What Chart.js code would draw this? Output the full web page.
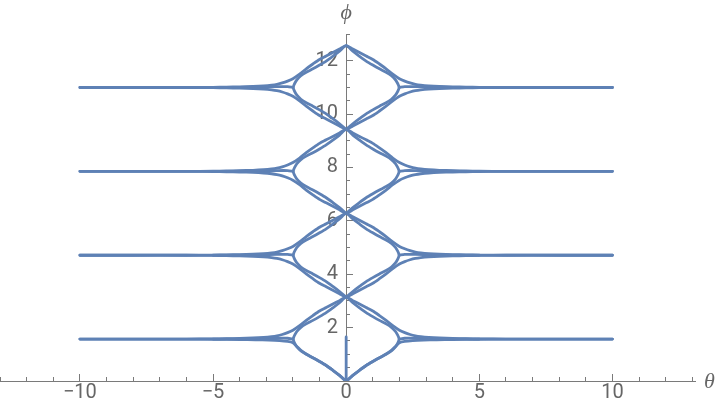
<!DOCTYPE html>
<html><head><meta charset="utf-8">
<script src="https://cdn.jsdelivr.net/npm/chart.js@4/dist/chart.umd.min.js"></script>
<style>html,body{margin:0;padding:0;background:#fff}</style>
</head><body>
<canvas id="c" width="720" height="409"></canvas>
<script>
// Row centres (asymptote levels) of the four repeating cells
const rowCenters = [1.571, 4.712, 7.854, 10.996];
// Right-half shapes: [theta, offset from row centre]
const innerUpperArm = [[0,1.571],[0.25,1.36],[0.5,1.17],[0.75,0.99],[1.0,0.84],[1.25,0.70],[1.5,0.57],[1.7,0.44],[1.85,0.29],[1.93,0.16],[1.97,0.07],[1.99,0.0]];
const innerLowerArm = [[0,-1.571],[0.25,-1.36],[0.5,-1.17],[0.75,-0.99],[1.0,-0.84],[1.25,-0.70],[1.5,-0.57],[1.7,-0.44],[1.85,-0.29],[1.93,-0.16],[1.97,-0.07],[1.99,0.0]];
const outerArm = [[0,1.571],[0.25,1.44],[0.5,1.31],[0.75,1.18],[1.0,1.05],[1.25,0.88],[1.5,0.70],[1.75,0.50],[2.0,0.33],[2.2,0.24],[2.4,0.17],[2.6,0.12],[2.8,0.09],[3.1,0.062],[3.5,0.04],[4.0,0.025],[4.5,0.014],[5.0,0.007],[6.0,0.0],[8.0,0.0],[10,0.0]];
const firstLowerArm = [[0,-1.571],[0.25,-1.36],[0.5,-1.17],[0.75,-0.99],[1.0,-0.84],[1.25,-0.70],[1.5,-0.56],[1.7,-0.42],[1.85,-0.28],[2.0,-0.14],[2.2,-0.09],[2.5,-0.06],[2.9,-0.04],[3.4,-0.027],[4.0,-0.016],[5.0,-0.006],[6.0,0.0],[10,0.0]];
const tipTail = [[1.99,0.0],[2.2,0.03],[2.6,0.03],[3.2,0.015],[4.0,0.005],[5.0,0.0]];
const axisStub = [[0,0],[0,1.65]];

const xMajorTicks = [-10,-5,0,5,10];
const xTickLabels = ['−10','−5','0','5','10'];
const xMinorTicks = [-13,-12,-11,-10,-9,-8,-7,-6,-5,-4,-3,-2,-1,0,1,2,3,4,5,6,7,8,9,10,11,12,13];
const yMajorTicks = [2,4,6,8,10,12];
const yTickLabels = ['2','4','6','8','10','12'];
const yMinorTicks = [0,0.5,1,1.5,2,2.5,3,3.5,4,4.5,5,5.5,6,6.5,7,7.5,8,8.5,9,9.5,10,10.5,11,11.5,12,12.5,13];

const LINE = '#5e81b5';
const AX = '#7a7a7a';
const LBL = '#666666';

function pts(arr, c, sx) { return arr.map(p => ({x: sx * p[0], y: c + p[1]})); }
function neg(arr) { return arr.map(p => [p[0], -p[1]]); }
function lens(c) {
  const r1 = pts(innerLowerArm, c, 1);
  const r2 = pts(innerUpperArm, c, 1).reverse().slice(1);
  const l1 = pts(innerUpperArm, c, -1).slice(1);
  const l2 = pts(innerLowerArm, c, -1).reverse().slice(1);
  return r1.concat(r2, l1, l2);
}
function through(arm, c) {
  const left = pts(arm, c, -1).reverse();
  const right = pts(arm, c, 1).slice(1);
  return left.concat(right);
}
const datasets = [];
rowCenters.forEach((c, i) => {
  datasets.push({data: lens(c)});
  datasets.push({data: through(outerArm, c)});
  datasets.push({data: through(i === 0 ? firstLowerArm : neg(outerArm), c)});
  datasets.push({data: pts(tipTail, c, 1)});
  datasets.push({data: pts(tipTail, c, -1)});
});
datasets.push({data: axisStub.map(p => ({x: p[0], y: p[1]})), tension: 0});
datasets.forEach(d => Object.assign(d, {showLine: true, borderColor: LINE, borderWidth: 2.8, pointRadius: 0, fill: false, borderCapStyle: 'round', borderJoinStyle: 'round'}));

const tickFont = {family: 'Roboto', size: 20};
const titles = {
  id: 'titles',
  afterDraw(chart) {
    const ctx = chart.ctx, a = chart.chartArea;
    const xs = chart.scales.x, ys = chart.scales.y;
    ctx.save();
    ctx.fillStyle = LBL;
    ctx.font = 'italic 22px "Liberation Serif"';
    ctx.textBaseline = 'middle';
    ctx.textAlign = 'left';
    ctx.fillText('θ', a.right + 9, ys.getPixelForValue(0) + 1);
    ctx.textAlign = 'center';
    ctx.fillText('ϕ', xs.getPixelForValue(0), a.top - 21);
    ctx.restore();
  }
};

new Chart(document.getElementById('c'), {
  type: 'scatter',
  data: {datasets},
  options: {
    responsive: false, animation: false, devicePixelRatio: 1,
    layout: {padding: {left: 0, right: 25, top: 34, bottom: 0}},
    plugins: {legend: {display: false}, tooltip: {enabled: false}},
    elements: {line: {tension: 0.25}},
    scales: {
      xMinor: {
        type: 'linear', axis: 'x', position: 'bottom', weight: -1, min: -13, max: 13.1,
        afterBuildTicks: s => { s.ticks = xMinorTicks.map(v => ({value: v})); },
        afterFit: s => { s.height = 0; },
        grid: {drawOnChartArea: false, drawTicks: true, tickLength: -4, tickColor: AX, tickWidth: 1},
        border: {display: false},
        ticks: {display: false}
      },
      x: {
        type: 'linear', position: 'bottom', weight: 0, min: -13, max: 13.1,
        afterBuildTicks: s => { s.ticks = xMajorTicks.map(v => ({value: v})); },
        afterFit: s => { s.height = 28; },
        grid: {drawOnChartArea: false, drawTicks: true, tickLength: -7, tickColor: AX, tickWidth: 1},
        border: {display: true, color: AX, width: 1},
        ticks: {autoSkip: false, maxRotation: 0, padding: 7, color: LBL, font: tickFont,
          callback: (v) => { const i = xMajorTicks.indexOf(v); return i >= 0 ? xTickLabels[i] : ''; }}
      },
      yMinor: {
        type: 'linear', axis: 'y', position: {x: 0}, min: 0, max: 13,
        afterBuildTicks: s => { s.ticks = yMinorTicks.map(v => ({value: v})); },
        afterFit: s => { s.width = 0; },
        grid: {drawOnChartArea: false, drawTicks: true, tickLength: -4, tickColor: AX, tickWidth: 1},
        border: {display: false},
        ticks: {display: false}
      },
      y: {
        type: 'linear', position: {x: 0}, min: 0, max: 13,
        afterBuildTicks: s => { s.ticks = yMajorTicks.map(v => ({value: v})); },
        afterFit: s => { s.width = 0; },
        grid: {drawOnChartArea: false, drawTicks: true, tickLength: -7, tickColor: AX, tickWidth: 1},
        border: {display: true, color: AX, width: 1},
        ticks: {autoSkip: false, color: LBL, font: tickFont,
          callback: (v) => { const i = yMajorTicks.indexOf(v); return i >= 0 ? yTickLabels[i] + '\u2009\u2009' : ''; }}
      }
    }
  },
  plugins: [titles]
});
</script>
</body></html>
